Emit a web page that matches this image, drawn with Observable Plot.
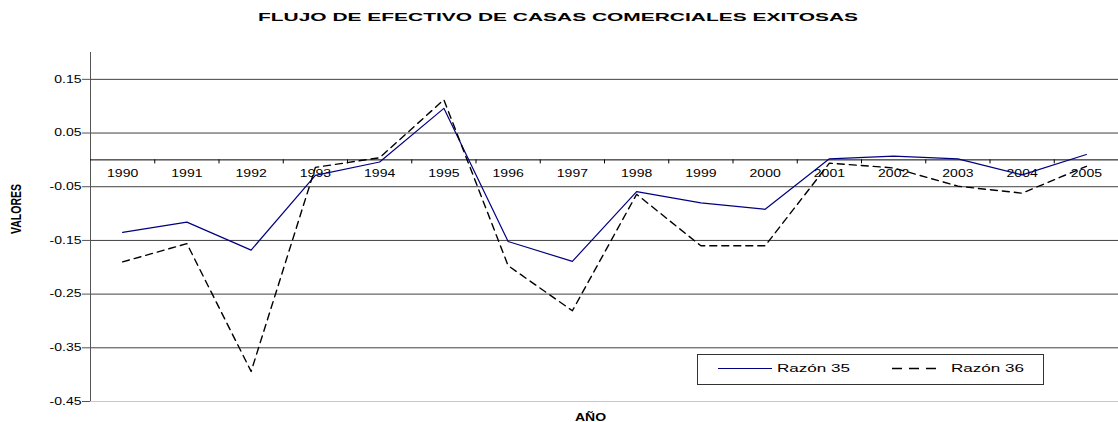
<!DOCTYPE html>
<html>
<head>
<meta charset="utf-8">
<script src="https://cdn.jsdelivr.net/npm/d3@7"></script>
<script src="https://cdn.jsdelivr.net/npm/@observablehq/plot@0.6"></script>
<style>
  body { margin: 0; background: #fff; font-family: "Liberation Sans", Arial, sans-serif; }
  #wrap { position: relative; width: 1118px; height: 422px; overflow: hidden; }
  #title { position: relative; height: 34px; }
  #title span { position: absolute; left: 258px; top: 13px; font-weight: bold; font-size: 10px;
                line-height: 1; white-space: nowrap; transform-origin: 0 0; color: #000; }
  #legend { position: absolute; left: 697px; top: 354px; }
</style>
</head>
<body>
<div id="wrap">
  <div id="title"><span id="titletext">FLUJO DE EFECTIVO DE CASAS COMERCIALES EXITOSAS</span></div>
  <div id="chart"></div>
  <svg id="legend" width="347" height="31"></svg>
</div>
<script>
// ---- data ----
const years = [1990, 1991, 1992, 1993, 1994, 1995, 1996, 1997, 1998, 1999, 2000, 2001, 2002, 2003, 2004, 2005];
const razon35 = [-0.135, -0.116, -0.168, -0.029, -0.004, 0.096, -0.152, -0.189, -0.059, -0.080, -0.092, 0.002, 0.007, 0.002, -0.028, 0.010];
const razon36 = [-0.190, -0.156, -0.394, -0.014, 0.004, 0.112, -0.197, -0.281, -0.064, -0.160, -0.160, -0.006, -0.015, -0.049, -0.062, -0.012];
const yTicks = [-0.45, -0.35, -0.25, -0.15, -0.05, 0.05, 0.15];
const seriesNames = ["Razón 35", "Razón 36"];
const titleText = "FLUJO DE EFECTIVO DE CASAS COMERCIALES EXITOSAS";
const yLabel = "VALORES";
const xLabel = "AÑO";

const FONT = '"Liberation Sans", Arial, sans-serif';
const F = 1.4; // horizontal stretch of the reference's text
const xDomain = [years[0] - 0.5, years[years.length - 1] + 0.5];
const yDomain = [-0.45, 0.2];
const boundaries = years.slice(1).map(y => y - 0.5);

const rows = years.map((y, i) => ({year: y, r35: razon35[i], r36: razon36[i]}));

const chart = Plot.plot({
  width: 1118,
  height: 388,
  marginLeft: 90,
  marginRight: 0,
  marginTop: 18,
  marginBottom: 21,
  x: {domain: xDomain, axis: null},
  y: {domain: yDomain, axis: null},
  style: {fontFamily: FONT, fontSize: "10px", color: "#000", background: "transparent", overflow: "visible"},
  marks: [
    Plot.ruleY(yTicks.filter(v => v > yDomain[0]), {y: d => d, stroke: "#404040", strokeWidth: 1}),
    Plot.ruleY([yDomain[0]], {y: d => d, stroke: "#c8c8c8", strokeWidth: 1}),
    Plot.ruleX([xDomain[0]], {x: d => d, stroke: "#555", strokeWidth: 1}),
    Plot.axisY({ticks: yTicks, tickFormat: d => d.toFixed(2), tickSize: 8, tickPadding: 1,
                stroke: "#555", fontSize: 10, label: null, anchor: "left"}),
    Plot.ruleY([0], {y: d => d, stroke: "#000", strokeWidth: 1}),
    Plot.ruleX(boundaries, {x: d => d, y1: () => 0, y2: () => 0, insetBottom: -4, stroke: "#000"}),
    Plot.text(years, {x: d => d, y: () => 0, text: d => String(d), dy: 14, lineAnchor: "middle",
                      fontSize: 10, fill: "#000"}),
    Plot.line(rows, {x: "year", y: "r35", stroke: "#000080", strokeWidth: 1.2}),
    Plot.line(rows, {x: "year", y: "r36", stroke: "#000", strokeWidth: 1.4, strokeDasharray: "7,5"}),
    Plot.text([yLabel], {text: d => d, frameAnchor: "left", dx: -74, dy: 7, rotate: -90, lineAnchor: "middle",
                         fontWeight: "bold", fontSize: 15, fill: "#000"}),
    Plot.text([xLabel], {text: d => d, frameAnchor: "bottom", dx: -14, dy: 16, lineAnchor: "middle",
                         fontWeight: "bold", fontSize: 10, fill: "#000"})
  ]
});
document.getElementById("chart").appendChild(chart);

// stretch text horizontally like the reference
chart.querySelectorAll("text").forEach(t => {
  if (t.textContent === yLabel) {
    t.setAttribute("textLength", 50);
  } else {
    t.setAttribute("textLength", t.getComputedTextLength() * F);
  }
  t.setAttribute("lengthAdjust", "spacingAndGlyphs");
});

// title stretch
const ts = document.getElementById("titletext");
ts.style.transform = `scaleX(${600 / ts.getBoundingClientRect().width})`;

// legend
const lg = d3.select("#legend");
lg.append("rect").attr("x", 0.5).attr("y", 0.5).attr("width", 346).attr("height", 30)
  .attr("fill", "#fff").attr("stroke", "#333");
const items = [
  {name: seriesNames[0], x0: 21, x1: 75, tx: 80, stroke: "#000080", dash: null, sw: 1.2},
  {name: seriesNames[1], x0: 195, x1: 244, tx: 254, stroke: "#000", dash: "10,7", sw: 1.4}
];
items.forEach(it => {
  lg.append("line").attr("x1", it.x0).attr("x2", it.x1).attr("y1", 14.5).attr("y2", 14.5)
    .attr("stroke", it.stroke).attr("stroke-width", it.sw).attr("stroke-dasharray", it.dash);
  lg.append("text").attr("x", it.tx).attr("y", 18).attr("font-family", FONT).attr("font-size", 10)
    .attr("fill", "#000").attr("textLength", 73).attr("lengthAdjust", "spacingAndGlyphs").text(it.name);
});
</script>
</body>
</html>
